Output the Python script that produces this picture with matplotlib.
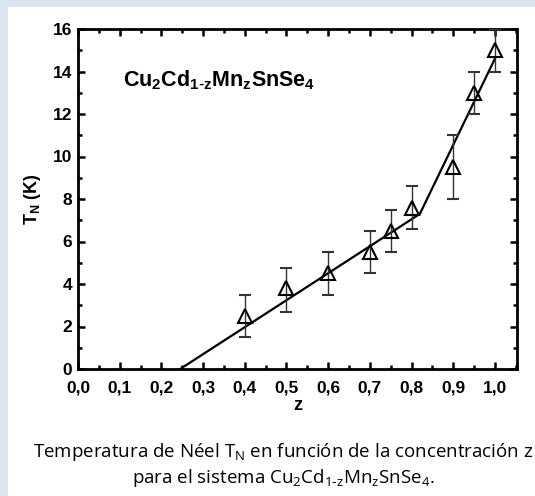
import numpy as np
from matplotlib import pyplot as plt
from matplotlib.patches import Rectangle
from matplotlib.ticker import MultipleLocator, FuncFormatter

# measured points
z = [0.40, 0.50, 0.60, 0.70, 0.75, 0.80, 0.90, 0.95, 1.00]
TN = [2.5, 3.8, 4.5, 5.5, 6.5, 7.6, 9.5, 13.0, 15.0]
err_lo = [1.0, 1.1, 1.0, 1.0, 1.0, 1.0, 1.5, 1.0, 1.0]
err_hi = [1.0, 0.95, 1.0, 1.0, 1.0, 1.0, 1.5, 1.0, 1.0]

# fitted two-segment line
fit_z = [0.245, 0.82, 1.0]
fit_T = [0.0, 7.3, 14.6]

fig = plt.figure(figsize=(5.35, 4.96), dpi=100)
fig.patch.set_facecolor('#dbe4f0')
# white panel
fig.add_artist(Rectangle((8/535, 0), 1, 1 - 7/496, transform=fig.transFigure,
                         facecolor='white', edgecolor='none', zorder=0))

ax = fig.add_axes([78/535, 1 - 369/496, (517 - 78)/535, (369 - 29)/496])
ax.set_facecolor('white')

ax.plot(fit_z, fit_T, color='black', lw=1.6, zorder=2)
ax.errorbar(z, TN, yerr=[err_lo, err_hi], fmt='^', ms=10, mfc='none', mec='black',
            mew=1.5, ecolor='#333333', elinewidth=1.0, capsize=4, capthick=1.0, zorder=3)

ax.set_xlim(0, 1.053)
ax.set_ylim(0, 16)
ax.xaxis.set_major_locator(MultipleLocator(0.1))
ax.xaxis.set_minor_locator(MultipleLocator(0.05))
ax.yaxis.set_major_locator(MultipleLocator(2))
ax.yaxis.set_minor_locator(MultipleLocator(1))
ax.xaxis.set_major_formatter(FuncFormatter(lambda v, p: '{:.1f}'.format(v).replace('.', ',')))
ax.yaxis.set_major_formatter(FuncFormatter(lambda v, p: '{:d}'.format(int(round(v)))))

ax.tick_params(which='both', direction='in', top=True, right=True, width=1.8)
ax.tick_params(which='major', length=5, labelsize=12.5)
ax.tick_params(axis='x', which='major', pad=8)
ax.tick_params(axis='y', which='major', pad=4)
ax.tick_params(which='minor', length=3)
for lab in ax.get_xticklabels() + ax.get_yticklabels():
    lab.set_fontweight('bold')
    lab.set_family('Liberation Sans')
for s in ax.spines.values():
    s.set_linewidth(2)

ax.set_xlabel('z', fontsize=13, fontweight='bold', family='Liberation Sans', labelpad=1)
ax.set_ylabel(r'T$_\mathregular{N}$ (K)', fontsize=13, fontweight='bold',
              family='Liberation Sans')
ax.yaxis.set_label_coords(-0.08, 0.5)

ax.text(0.108, 13.6, r'Cu$_\mathregular{2}$Cd$_\mathregular{1\text{-}z}$Mn$_\mathregular{z}$SnSe$_\mathregular{4}$',
        fontsize=15.5, fontweight='bold', family='Liberation Sans', va='center')

fig.text(0.53, 1 - 452/496, 'Temperatura de Néel T$_\\mathregular{N}$ en función de la concentración z',
         ha='center', va='center', fontsize=13.5, family='Open Sans')
fig.text(0.53, 1 - 478/496, 'para el sistema Cu$_\\mathregular{2}$Cd$_\\mathregular{1\\text{-}z}$Mn$_\\mathregular{z}$SnSe$_\\mathregular{4}$.',
         ha='center', va='center', fontsize=13.5, family='Open Sans')

fig.savefig('out.png', dpi=100, facecolor=fig.get_facecolor())
